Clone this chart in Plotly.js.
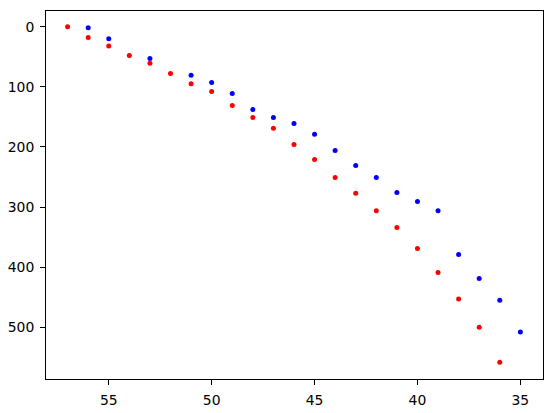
<!DOCTYPE html>
<html>
<head>
<meta charset="utf-8">
<script src="https://cdn.plot.ly/plotly-3.0.1.min.js"></script>
<style>html,body{margin:0;padding:0;background:#fff;}#chart{width:552px;height:413px;}</style>
</head>
<body>
<div id="chart"></div>
<script>
const blueX = [56,55,53,51,50,49,48,47,46,45,44,43,42,41,40,39,38,37,36,35];
const blueY = [2,20,53,81,93,111,138,151,161,179,206,231,251,276,291,306,379,419,455,508];
const redX = [57,56,55,54,53,52,51,50,49,48,47,46,45,44,43,42,41,40,39,38,37,36];
const redY = [0,18,32,48,61,78,95,108,131,151,169,196,221,251,277,306,334,369,409,453,500,558];
const xTicks = [55,50,45,40,35];
const yTicks = [0,100,200,300,400,500];

const traces = [
  {x: blueX, y: blueY, mode: 'markers', type: 'scatter', marker: {color: '#0000ff', size: 5}},
  {x: redX, y: redY, mode: 'markers', type: 'scatter', marker: {color: '#ff0000', size: 5}}
];
const axisCommon = {
  showgrid: false, zeroline: false, showline: true, mirror: true,
  linecolor: '#000', linewidth: 1, ticks: 'outside', ticklen: 5, tickwidth: 1,
  tickcolor: '#000', tickfont: {family: 'DejaVu Sans', size: 13.9, color: '#000'},
  ticklabelstandoff: 3
};
const layout = {
  width: 552, height: 413,
  margin: {l: 46, r: 9, t: 11, b: 34, pad: 0},
  showlegend: false,
  paper_bgcolor: '#fff', plot_bgcolor: '#fff',
  xaxis: Object.assign({}, axisCommon, {range: [58.05, 33.9], tickvals: xTicks, ticktext: xTicks.map(String)}),
  yaxis: Object.assign({}, axisCommon, {range: [586, -26], tickvals: yTicks, ticktext: yTicks.map(String)})
};
Plotly.newPlot('chart', traces, layout, {displayModeBar: false, staticPlot: true});
</script>
</body>
</html>
